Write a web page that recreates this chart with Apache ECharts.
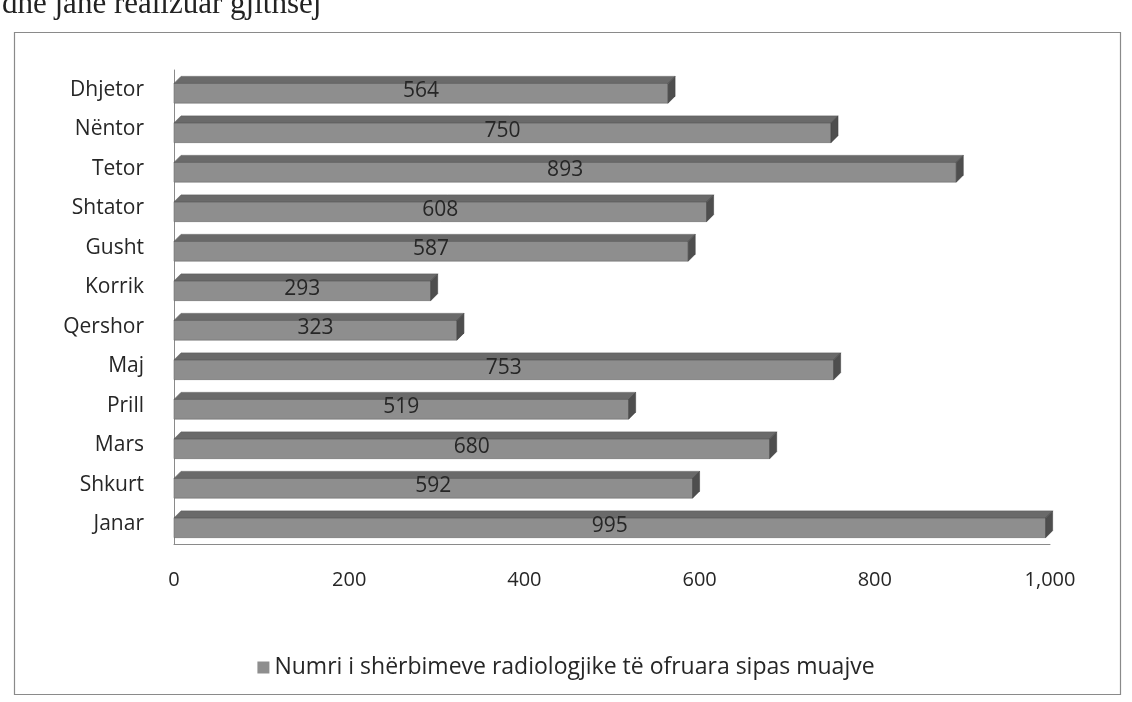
<!DOCTYPE html>
<html>
<head>
<meta charset="utf-8">
<script src="https://cdn.jsdelivr.net/npm/echarts@6/dist/echarts.min.js"></script>
<style>
    html, body { margin: 0; padding: 0; background: #fff; }
    #main { width: 1132px; height: 702px; }
</style>
</head>
<body>
<div id="main"></div>
<script>
// muajt, nga poshte lart
const muajt = ['Janar', 'Shkurt', 'Mars', 'Prill', 'Maj', 'Qershor', 'Korrik', 'Gusht', 'Shtator', 'Tetor', 'Nëntor', 'Dhjetor'];
const sherbimet = [995, 592, 680, 519, 753, 323, 293, 587, 608, 893, 750, 564];
const seriaEmri = 'Numri i shërbimeve radiologjike të ofruara sipas muajve';

const FONT = '"Open Sans", "Noto Sans", sans-serif';

let chart = echarts.init(document.getElementById('main'));

// shirit 3D: faqja para, lart dhe fundi djathtas
function bar3d(params, api) {
    let val = api.value(0);
    let cat = api.value(1);
    let end = api.coord([val, cat]);
    let start = api.coord([0, cat]);
    let band = api.size([0, 1])[1];
    let h = band * 0.5;
    let dx = 7, dy = 7;
    let y0 = end[1] - h / 2 + dy / 2;
    let y1 = y0 + h;
    return {
        type: 'group',
        children: [
            {
                type: 'rect',
                shape: { x: start[0], y: y0, width: end[0] - start[0], height: h },
                style: { fill: '#8e8e8e', stroke: '#6e6e6e', lineWidth: 0.6 }
            },
            {
                type: 'polygon',
                shape: { points: [[start[0], y0], [start[0] + dx, y0 - dy], [end[0] + dx, y0 - dy], [end[0], y0]] },
                style: { fill: '#6a6a6a', stroke: '#5a5a5a', lineWidth: 0.6 }
            },
            {
                type: 'polygon',
                shape: { points: [[end[0], y0], [end[0] + dx, y0 - dy], [end[0] + dx, y1 - dy], [end[0], y1]] },
                style: { fill: '#4e4e4e', stroke: '#444', lineWidth: 0.6 }
            },
            {
                type: 'text',
                style: {
                    text: String(val),
                    x: (start[0] + end[0]) / 2,
                    y: (y0 + y1) / 2 - 2,
                    align: 'center',
                    verticalAlign: 'middle',
                    fill: '#262626',
                    font: '21px ' + FONT
                }
            }
        ]
    };
}

let option = {
    backgroundColor: '#fff',
    animation: false,
    graphic: [
        {
            type: 'text',
            left: 2,
            top: -11,
            style: {
                text: 'dhe janë realizuar gjithsej',
                fill: '#222',
                font: '31px "Liberation Serif", serif'
            }
        },
        {
            type: 'rect',
            left: 12,
            top: 30,
            shape: { width: 1106, height: 662 },
            style: { fill: 'none', stroke: '#8a8a8a', lineWidth: 1.2 }
        }
    ],
    grid: {
        left: 174,
        right: 82,
        top: 70,
        bottom: 158
    },
    legend: {
        bottom: 18,
        left: 'center',
        itemWidth: 12,
        itemHeight: 12,
        itemGap: 6,
        icon: 'rect',
        textStyle: { fontSize: 23, color: '#262626', fontFamily: FONT },
        data: [{ name: seriaEmri, itemStyle: { color: '#8e8e8e' } }]
    },
    xAxis: {
        type: 'value',
        min: 0,
        max: 1000,
        interval: 200,
        axisLine: { show: true, lineStyle: { color: '#8a8a8a' } },
        axisTick: { show: false },
        splitLine: { show: false },
        axisLabel: {
            margin: 26,
            fontSize: 20,
            color: '#262626',
            fontFamily: FONT,
            formatter: v => v.toLocaleString('en-US')
        }
    },
    yAxis: {
        type: 'category',
        data: muajt,
        axisLine: { show: true, lineStyle: { color: '#8a8a8a' } },
        axisTick: { show: false },
        axisLabel: {
            margin: 30,
            fontSize: 21,
            color: '#262626',
            fontFamily: FONT
        }
    },
    series: [
        {
            name: seriaEmri,
            type: 'custom',
            renderItem: bar3d,
            encode: { x: 0, y: 1 },
            itemStyle: { color: '#8e8e8e' },
            data: sherbimet.map((v, i) => [v, i])
        }
    ]
};

chart.setOption(option);
</script>
</body>
</html>
